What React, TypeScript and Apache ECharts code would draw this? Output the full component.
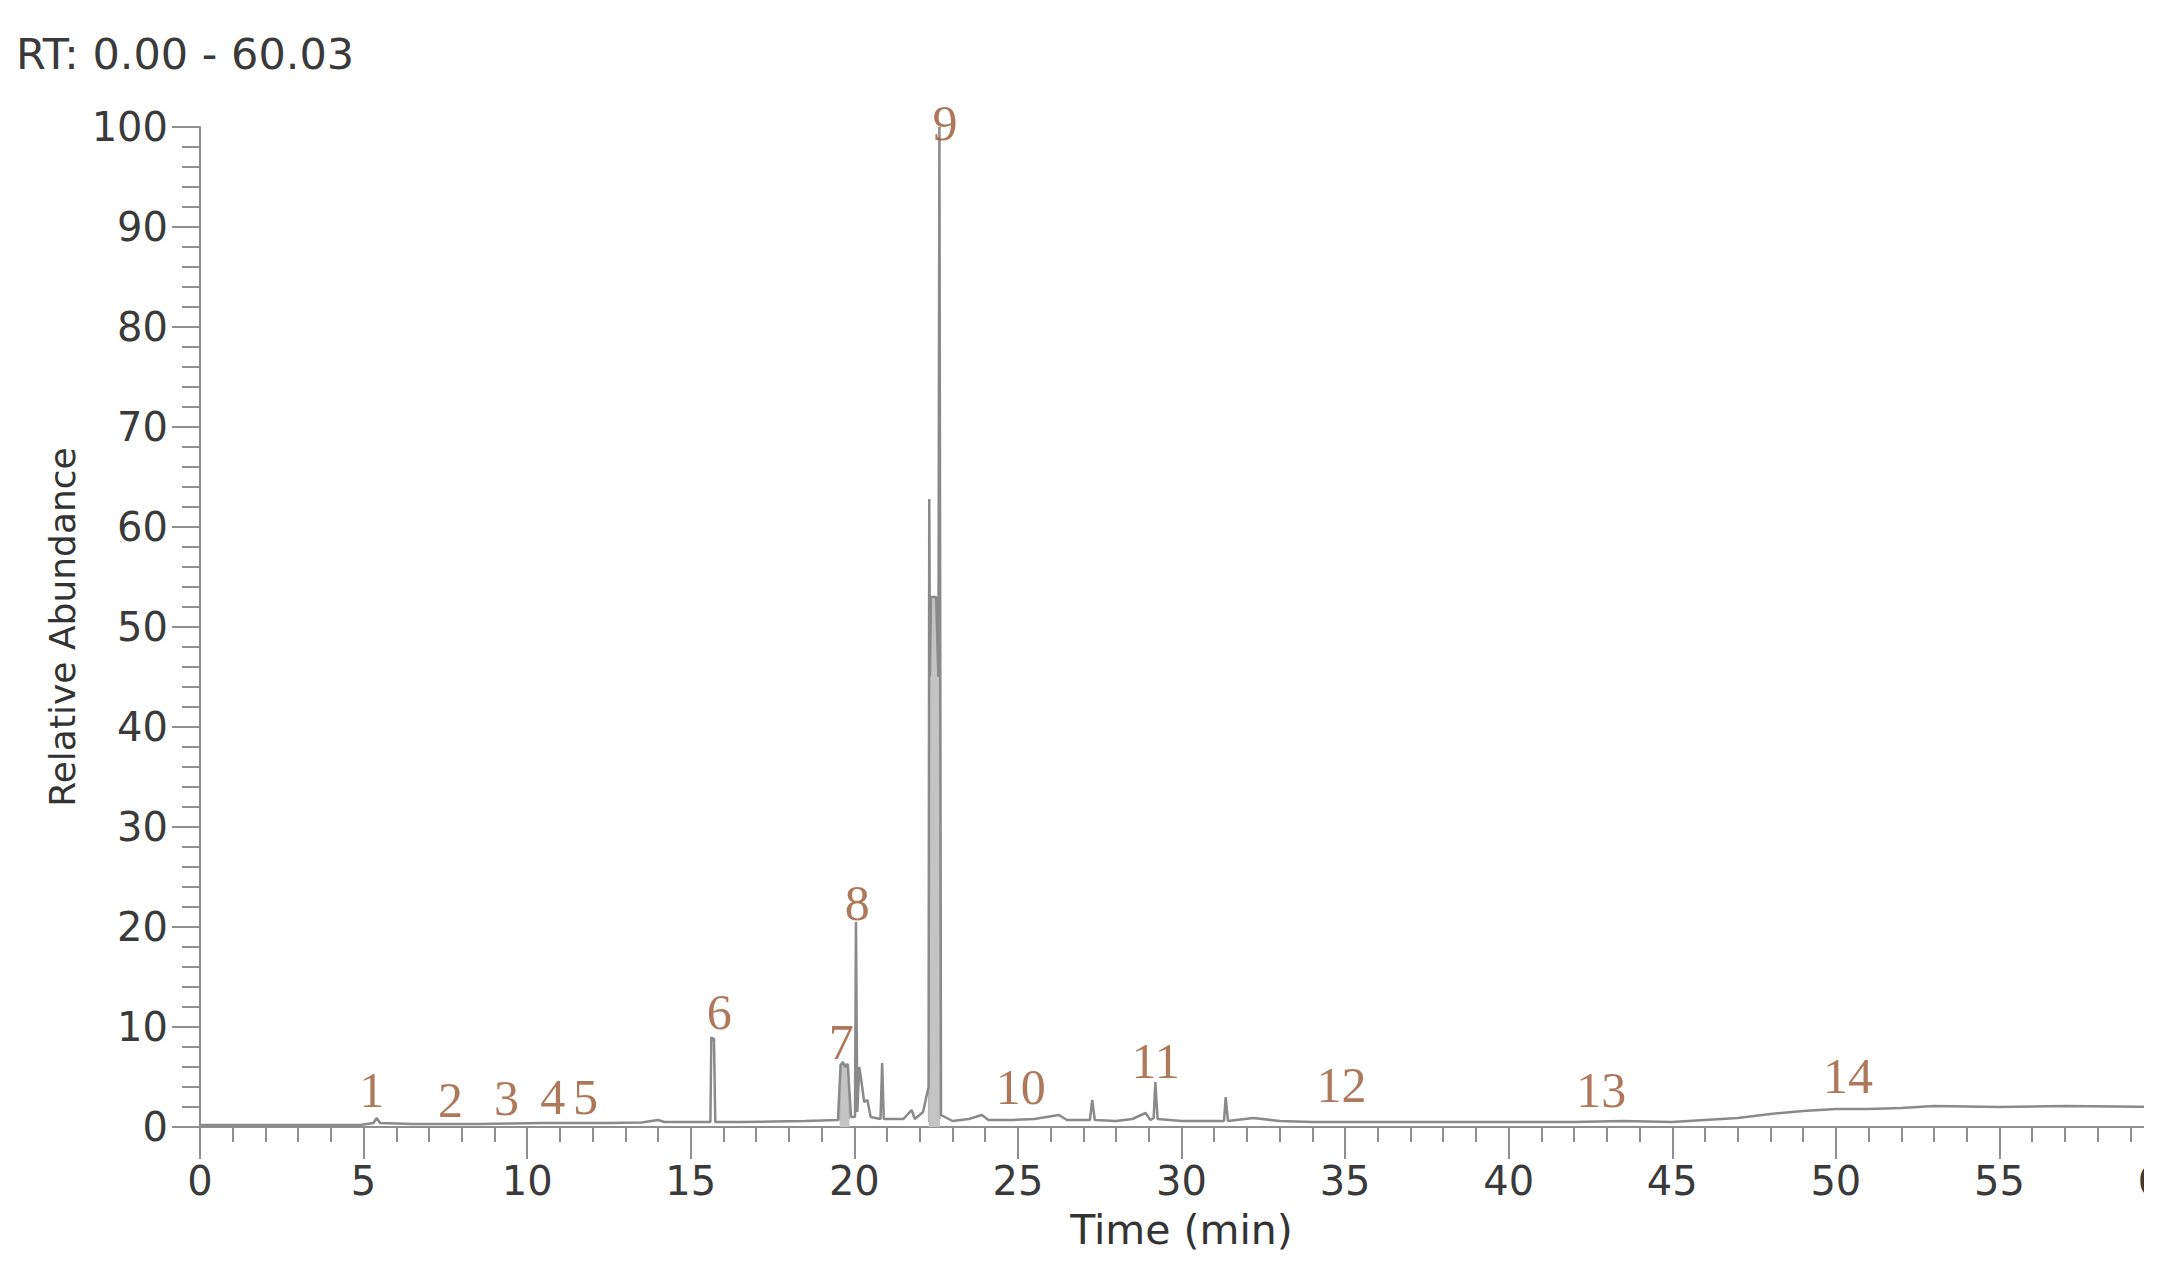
import React, { useEffect, useRef } from "react";
import * as echarts from "echarts";

// Chromatogram trace (retention time in min, relative abundance in %)
const traceTimes = [
  0, 4.9, 5.3, 5.4, 5.5, 6.5, 7.5, 8.5, 9.5, 10.5, 11.5, 12.5, 13.5, 14.0, 14.2, 15.0,
  15.6, 15.63, 15.67, 15.71, 15.75, 16.5, 17.5, 18.5, 19.5, 19.58, 19.65, 19.72, 19.8, 19.9,
  20.02, 20.05, 20.09, 20.15, 20.22, 20.3, 20.4, 20.5, 20.8, 20.85, 20.9, 21.5, 21.75, 21.85,
  22.1, 22.2, 22.27, 22.29, 22.31, 22.34, 22.5, 22.57, 22.6, 22.65, 23.0, 23.5, 23.9, 24.1,
  24.8, 25.5, 26.25, 26.5, 27.2, 27.27, 27.35, 28.0, 28.5, 28.9, 29.05, 29.15, 29.2, 29.27,
  30.0, 31.0, 31.3, 31.35, 31.42, 32.2, 33, 34, 36, 38, 40, 42, 43.5, 45, 46, 47, 48, 49,
  50, 51, 52, 53, 55, 57, 60,
];
const traceAbundance = [
  0.2, 0.2, 0.4, 0.9, 0.4, 0.3, 0.3, 0.3, 0.35, 0.4, 0.4, 0.4, 0.45, 0.7, 0.5, 0.5,
  0.5, 9.0, 8.7, 8.9, 0.5, 0.5, 0.55, 0.6, 0.7, 6.2, 6.5, 6.0, 6.3, 1.0,
  1.0, 20.5, 1.5, 6.0, 4.5, 2.5, 2.7, 1.0, 0.8, 6.4, 0.8, 0.8, 1.7, 0.8,
  1.5, 3.0, 4.0, 62.8, 45, 53, 53, 45, 100, 1.2, 0.6, 0.8, 1.2, 0.7,
  0.7, 0.8, 1.2, 0.7, 0.7, 2.7, 0.7, 0.6, 0.8, 1.4, 0.7, 0.9, 4.5, 0.8,
  0.6, 0.6, 0.6, 3.0, 0.6, 0.9, 0.6, 0.5, 0.5, 0.5, 0.5, 0.5, 0.6, 0.5, 0.7, 0.9, 1.3, 1.6,
  1.8, 1.8, 1.9, 2.1, 2.0, 2.1, 2.0,
];

// Overlapping (unresolved) regions drawn with a light fill: peak 7 and peak 9 cluster
const filledTimes = [19.55, 19.58, 19.8, 19.85, 21.0, 22.27, 22.29, 22.31, 22.34, 22.5, 22.57, 22.6, 22.62];
const filledAbundance = [0.6, 6.2, 6.3, 0.8, NaN, 0.5, 62.8, 45, 53, 53, 45, 60, 0.8];

// Peak number annotations (label, time, abundance of label centre)
const peakLabels = ["1", "2", "3", "4", "5", "6", "7", "8", "9", "10", "11", "12", "13", "14"];
const peakLabelTimes = [5.25, 7.66, 9.37, 10.78, 11.78, 15.87, 19.6, 20.09, 22.77, 25.09, 29.21, 34.89, 42.83, 50.37];
const peakLabelAbundance = [3.7, 2.7, 2.9, 3.0, 3.0, 11.5, 8.5, 22.4, 100.4, 4.0, 6.6, 4.2, 3.7, 5.1];

const xTickInterval = 5;
const yTickInterval = 10;

export default function App() {
  const ref = useRef<HTMLDivElement>(null);

  useEffect(() => {
    if (!ref.current) return;
    const chart = echarts.init(ref.current, undefined, { renderer: "svg" });

    const trace = traceTimes.map((t, i) => [t, traceAbundance[i]]);
    const filled = filledTimes.map((t, i) =>
      isNaN(filledAbundance[i]) ? [t, "-"] : [t, filledAbundance[i]]
    );
    const labels = peakLabels.map((name, i) => ({
      name,
      value: [peakLabelTimes[i], peakLabelAbundance[i]],
    }));

    const axisColor = "#8f8f8f";
    const labelFont = "DejaVu Sans";

    chart.setOption({
      animation: false,
      backgroundColor: "#ffffff",
      title: {
        text: "RT: 0.00 - 60.03",
        left: 16,
        top: 32,
        padding: 0,
        textStyle: {
          fontFamily: labelFont,
          fontSize: 43,
          fontWeight: "normal",
          color: "#3a3a3a",
        },
      },
      grid: {
        left: 200,
        right: 11,
        top: 127,
        bottom: 159,
        containLabel: false,
        outerBoundsMode: "none",
      },
      xAxis: {
        type: "value",
        min: 0,
        max: 60,
        interval: xTickInterval,
        name: "Time (min)",
        nameLocation: "middle",
        nameGap: 82,
        nameTextStyle: { fontFamily: labelFont, fontSize: 41, color: "#333" },
        axisLine: { show: true, onZero: false, lineStyle: { color: axisColor, width: 2 } },
        axisTick: { show: true, length: 32, lineStyle: { color: axisColor, width: 2 } },
        minorTick: { show: true, splitNumber: 5, length: 15, lineStyle: { color: axisColor, width: 2 } },
        splitLine: { show: false },
        axisLabel: {
          margin: 34,
          fontFamily: labelFont,
          fontSize: 40,
          color: "#3a3a3a",
        },
      },
      yAxis: {
        type: "value",
        min: 0,
        max: 100,
        interval: yTickInterval,
        name: "Relative Abundance",
        nameLocation: "middle",
        nameGap: 118,
        nameTextStyle: { fontFamily: labelFont, fontSize: 36, color: "#333" },
        axisLine: { show: true, lineStyle: { color: axisColor, width: 2 } },
        axisTick: { show: true, length: 28, lineStyle: { color: axisColor, width: 2 } },
        minorTick: { show: true, splitNumber: 5, length: 18, lineStyle: { color: axisColor, width: 2 } },
        splitLine: { show: false },
        axisLabel: {
          margin: 32,
          fontFamily: labelFont,
          fontSize: 40,
          color: "#3a3a3a",
        },
      },
      series: [
        {
          type: "line",
          data: filled,
          symbol: "none",
          connectNulls: false,
          lineStyle: { color: "#b5b5b5", width: 1.5 },
          areaStyle: { color: "#c4c4c4", opacity: 1 },
          z: 2,
        },
        {
          type: "line",
          data: trace,
          symbol: "none",
          lineStyle: { color: "#8a8a8a", width: 2.5 },
          z: 3,
        },
        {
          type: "scatter",
          data: labels,
          clip: false,
          symbolSize: 1,
          itemStyle: { color: "rgba(0,0,0,0)" },
          label: {
            show: true,
            position: "inside",
            formatter: "{b}",
            fontFamily: "Liberation Serif",
            fontSize: 50,
            color: "#9a5832",
          },
          z: 5,
        },
      ],
      graphic: [
        {
          type: "rect",
          left: 2144,
          top: 0,
          z: 100,
          shape: { width: 40, height: 1286 },
          style: { fill: "#ffffff" },
        },
      ],
    });

    return () => chart.dispose();
  }, []);

  return (
    <div
      ref={ref}
      style={{ position: "fixed", left: 0, top: 0, width: 2174, height: 1286 }}
    />
  );
}
